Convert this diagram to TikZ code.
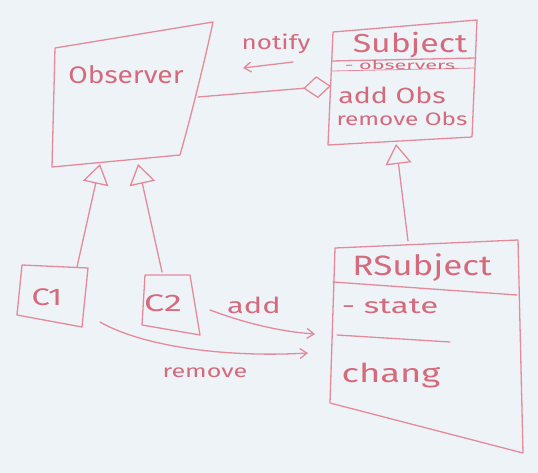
\documentclass[tikz,border=0pt]{standalone}
\usepackage{fontspec}
\setmainfont{Fira Sans}
\usetikzlibrary{arrows.meta}
\definecolor{ink}{HTML}{E48A9B}
\definecolor{txt}{HTML}{D56A7C}
\definecolor{board}{HTML}{EEF3F8}
\newcommand{\fs}[1]{\fontsize{#1}{#1}\selectfont}
\begin{document}
\begin{tikzpicture}[x=1pt,y=-1pt,line cap=round,line join=round,
  pen/.style={draw=ink,line width=1.3pt},
  lbl/.style={text=txt,inner sep=0pt},
  inherit/.style={pen,-{Triangle[open,length=20pt,width=26pt]}},
  aggr/.style={pen,{Diamond[open,length=28pt,width=22pt]}-},
  msg/.style={pen,-{Straight Barb[length=7pt,width=10pt]}}]
\fill[board] (0,0) rectangle (538,473);
\useasboundingbox (0,0) rectangle (538,473);

% Observer
\coordinate (oTL) at (55,48);
\coordinate (oTR) at (213,22);
\coordinate (oBR) at (180,155);
\coordinate (oBL) at (52,167);
\draw[pen] (oTL) -- (oTR) .. controls (205,60) and (190,120) .. (oBR) -- (oBL) -- cycle;
\node[lbl,font=\fs{24},xscale=1.17] (observer) at (126,75) {Observer};
\coordinate (oR) at (198,97);
\coordinate (oIn1) at (100,164);
\coordinate (oIn2) at (138,164);

% Subject
\coordinate (sTL) at (333,32);
\coordinate (sTR) at (477,20);
\coordinate (sBR) at (472,137);
\coordinate (sBL) at (328,145);
\draw[pen] (sTL) -- (sTR) -- (sBR) -- (sBL) -- cycle;
\coordinate (s1a) at (332,61); \coordinate (s1b) at (476,58);
\coordinate (s2a) at (332,71); \coordinate (s2b) at (475,68);
\draw[pen] (s1a) -- (s1b);
\draw[pen,line width=0.8pt] (s2a) -- (s2b);
\node[lbl,font=\fs{26},xscale=1.3] (subject) at (410,45) {Subject};
\node[lbl,font=\fs{12},xscale=1.8] (obsattr) at (400,65) {- observers};
\node[lbl,font=\fs{22},xscale=1.3] (addobs) at (392,95) {add Obs};
\node[lbl,font=\fs{18},xscale=1.35] (remobs) at (402,119) {remove Obs};
\coordinate (sL) at (331,86);
\coordinate (sB) at (396,144);

% RSubject
\coordinate (rTL) at (335,248);
\coordinate (rTR) at (518,240);
\coordinate (rBR) at (523,453);
\coordinate (rBL) at (330,403);
\draw[pen] (rTL) -- (rTR) -- (rBR) -- (rBL) -- cycle;
\coordinate (r1a) at (333,282); \coordinate (r1b) at (517,295);
\coordinate (r2a) at (337,335); \coordinate (r2b) at (450,342);
\draw[pen] (r1a) -- (r1b);
\draw[pen] (r2a) -- (r2b);
\node[lbl,font=\fs{28},xscale=1.25] (rsubject) at (422,268) {RSubject};
\node[lbl,font=\fs{22},xscale=1.5] (state) at (390,306) {- state};
\node[lbl,font=\fs{26},xscale=1.4] (chang) at (391,376) {chang};
\coordinate (rT) at (408,241);
\coordinate (rIn1) at (315,334);
\coordinate (rIn2) at (308,353);

% C1, C2
\coordinate (aTL) at (22,265);
\coordinate (aTR) at (88,268);
\coordinate (aBR) at (82,327);
\coordinate (aBL) at (17,315);
\draw[pen] (aTL) -- (aTR) -- (aBR) -- (aBL) -- cycle;
\node[lbl,font=\fs{24},xscale=1.36] (c1) at (47,297) {C1};
\coordinate (aT) at (77,267);
\coordinate (aOut) at (100,322);

\coordinate (bTL) at (145,275);
\coordinate (bTR) at (190,275);
\coordinate (bBR) at (200,335);
\coordinate (bBL) at (142,325);
\draw[pen] (bTL) -- (bTR) -- (bBR) -- (bBL) -- cycle;
\node[lbl,font=\fs{24},xscale=1.5] (c2) at (163,303) {C2};
\coordinate (bT) at (162,272);
\coordinate (bOut) at (210,310);

% relations
\draw[aggr] (sL) -- (oR);
\draw[inherit] (rT) -- (sB);
\draw[inherit] (aT) -- (oIn1);
\draw[inherit] (bT) -- (oIn2);

\coordinate (nS) at (293,62);
\coordinate (nE) at (243,68);
\draw[msg] (nS) -- (nE);
\node[lbl,font=\fs{20},xscale=1.3] (notify) at (276,44) {notify};

\draw[msg] (bOut) .. controls (250,325) and (285,332) .. (rIn1);
\node[lbl,font=\fs{22},xscale=1.4] (add) at (254,305) {add};
\draw[msg] (aOut) .. controls (140,345) and (220,358) .. (rIn2);
\node[lbl,font=\fs{18},xscale=1.4] (remove) at (205,373) {remove};
\end{tikzpicture}
\end{document}
